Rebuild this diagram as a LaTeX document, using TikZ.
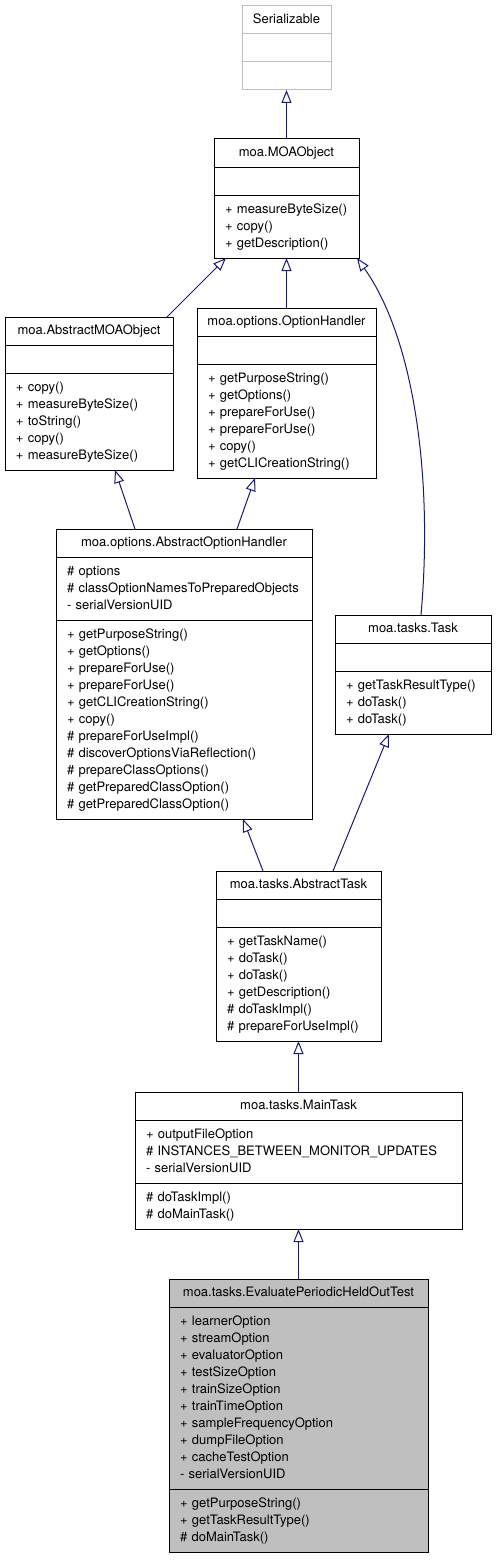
\documentclass[tikz,border=0pt]{standalone}
\usepackage{fontspec}
\setmainfont{TeX Gyre Heros}
\usetikzlibrary{positioning,arrows.meta}
\definecolor{edgeblue}{HTML}{191970}
\newcommand\classfont{\fontsize{13}{17}\selectfont}
\newcommand\rowstrut{\rule[-5pt]{0pt}{17pt}}
\newcommand\usc{\symbol{95}}
\tikzset{
  box/.style = {draw=black, line width=1pt, outer sep=0pt, anchor=north},
  classhead/.style = {box, minimum width=#1, minimum height=28pt, inner sep=0pt,
    font=\classfont, execute at begin node=\rowstrut},
  emptypart/.style = {box, minimum width=#1, minimum height=28pt, inner sep=0pt},
  classpart/.style = {box, text width=#1, inner xsep=11pt, inner ysep=6pt, align=left,
    font=\classfont, execute at begin node={\hyphenpenalty=10000\rowstrut},
    execute at end node=\rowstrut},
  undoc/.style = {draw=black!25},
  current/.style = {fill=black!25},
  inherit/.style = {draw=edgeblue, line width=1pt, -{Triangle[open,length=13pt,width=10pt]}}
}

\begin{document}
\begin{tikzpicture}[x=1pt,y=-1pt]
  \useasboundingbox (0,0) rectangle (496,1560);
  % Serializable
  \node[classhead=89pt,undoc] (ser) at (286.5,6) {Serializable};
  \node[emptypart=89pt,undoc,below=0pt of ser] (ser-a) {};
  \node[emptypart=89pt,undoc,below=0pt of ser-a] (ser-o) {};
  % moa.MOAObject
  \node[classhead=145pt] (mo) at (286.5,139) {moa.MOAObject};
  \node[emptypart=145pt,below=0pt of mo] (mo-a) {};
  \node[classpart=123pt,below=0pt of mo-a] (mo-o)
    {+~measureByteSize()\\+ copy()\\+ getDescription()};
  % moa.AbstractMOAObject
  \node[classhead=168pt] (amo) at (89,317) {moa.AbstractMOAObject};
  \node[emptypart=168pt,below=0pt of amo] (amo-a) {};
  \node[classpart=146pt,below=0pt of amo-a] (amo-o)
    {+ copy()\\+ measureByteSize()\\+ toString()\\+ copy()\\+ measureByteSize()};
  % moa.options.OptionHandler
  \node[classhead=179pt] (oh) at (286.5,308) {moa.options.OptionHandler};
  \node[emptypart=179pt,below=0pt of oh] (oh-a) {};
  \node[classpart=157pt,below=0pt of oh-a] (oh-o)
    {+ getPurposeString()\\+ getOptions()\\+ prepareForUse()\\+ prepareForUse()\\
     + copy()\\+ getCLICreationString()};
  % moa.options.AbstractOptionHandler
  \node[classhead=256pt] (aoh) at (184,529) {moa.options.AbstractOptionHandler};
  \node[classpart=234pt,below=0pt of aoh] (aoh-a)
    {\#~options\\\#~classOptionNamesToPreparedObjects\\- serialVersionUID};
  \node[classpart=234pt,below=0pt of aoh-a] (aoh-o)
    {+ getPurposeString()\\+ getOptions()\\+ prepareForUse()\\+ prepareForUse()\\
     + getCLICreationString()\\+ copy()\\\# prepareForUseImpl()\\
     \# discoverOptionsViaReflection()\\\# prepareClassOptions()\\
     \# getPreparedClassOption()\\\# getPreparedClassOption()};
  % moa.tasks.Task
  \node[classhead=156pt] (task) at (413,615) {moa.tasks.Task};
  \node[emptypart=156pt,below=0pt of task] (task-a) {};
  \node[classpart=134pt,below=0pt of task-a] (task-o)
    {+ getTaskResultType()\\+ doTask()\\+ doTask()};
  % moa.tasks.AbstractTask
  \node[classhead=165pt] (atask) at (298.5,871) {moa.tasks.AbstractTask};
  \node[emptypart=165pt,below=0pt of atask] (atask-a) {};
  \node[classpart=143pt,below=0pt of atask-a] (atask-o)
    {+ getTaskName()\\+ doTask()\\+ doTask()\\+ getDescription()\\
     \# doTaskImpl()\\\# prepareForUseImpl()};
  % moa.tasks.MainTask
  \node[classhead=327pt] (main) at (298.5,1092) {moa.tasks.MainTask};
  \node[classpart=305pt,below=0pt of main] (main-a)
    {+ outputFileOption\\\#~INSTANCES\usc BETWEEN\usc MONITOR\usc UPDATES\\- serialVersionUID};
  \node[classpart=305pt,below=0pt of main-a] (main-o)
    {\# doTaskImpl()\\\# doMainTask()};
  % moa.tasks.EvaluatePeriodicHeldOutTest
  \node[classhead=259pt,current] (eval) at (298.5,1279) {moa.tasks.EvaluatePeriodicHeldOutTest};
  \node[classpart=237pt,current,below=0pt of eval] (eval-a)
    {+ learnerOption\\+ streamOption\\+ evaluatorOption\\+ testSizeOption\\
     + trainSizeOption\\+ trainTimeOption\\+ sampleFrequencyOption\\
     + dumpFileOption\\+ cacheTestOption\\- serialVersionUID};
  \node[classpart=237pt,current,below=0pt of eval-a] (eval-o)
    {+ getPurposeString()\\+ getTaskResultType()\\\# doMainTask()};
  % inheritance
  \draw[inherit] (mo.north) -- (ser-o.south);
  \draw[inherit] ([xshift=-6pt]amo.north east) -- ([xshift=12pt]mo-o.south west);
  \draw[inherit] (oh.north) -- (mo-o.south);
  \draw[inherit] ([xshift=8pt]task.north) .. controls +(12,-135) and +(58,82) .. ([xshift=-2pt]mo-o.south east);
  \draw[inherit] ([xshift=-49pt]aoh.north) -- ([xshift=26pt]amo-o.south);
  \draw[inherit] ([xshift=53pt]aoh.north) -- ([xshift=-31.5pt]oh-o.south);
  \draw[inherit] ([xshift=-35.5pt]atask.north) -- ([xshift=59pt]aoh-o.south);
  \draw[inherit] ([xshift=34.5pt]atask.north) -- ([xshift=-24pt]task-o.south);
  \draw[inherit] (main.north) -- (atask-o.south);
  \draw[inherit] (eval.north) -- (main-o.south);
\end{tikzpicture}
\end{document}
